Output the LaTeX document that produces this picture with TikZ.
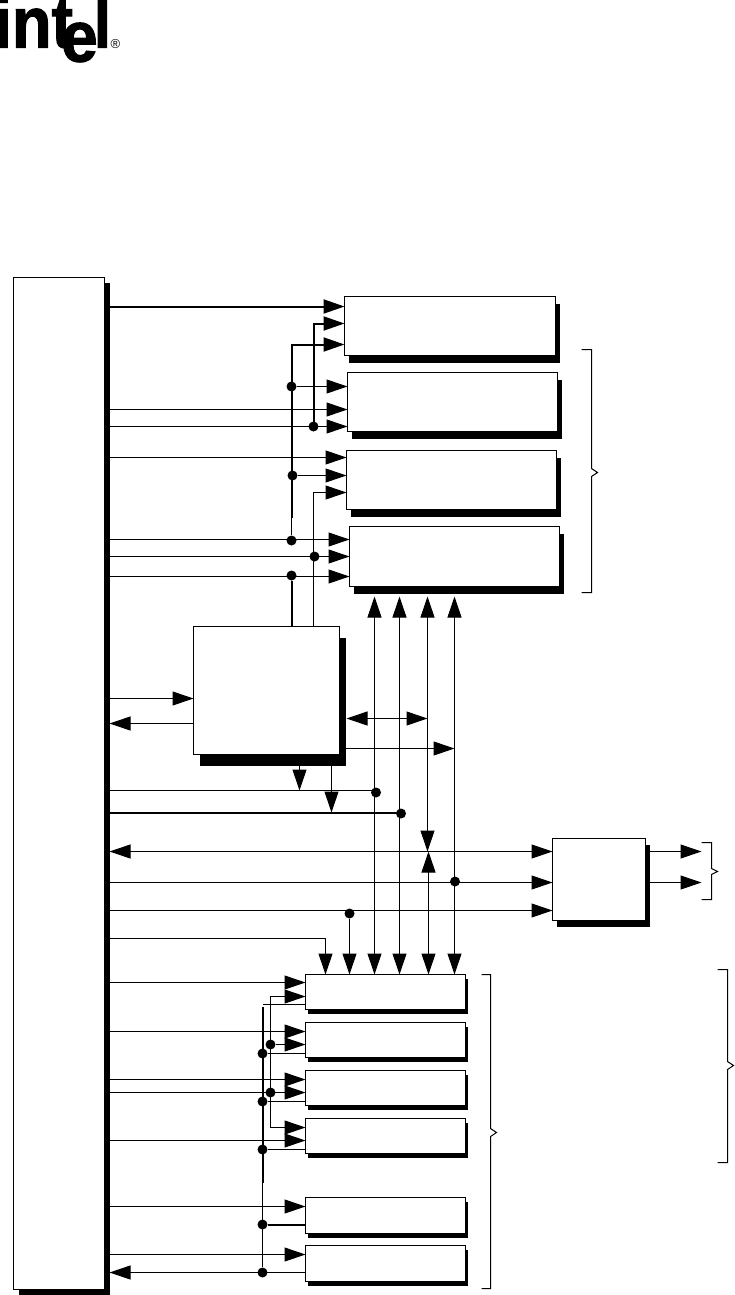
\documentclass[tikz,border=0pt]{standalone}
\usepackage{fontspec}
\setmainfont{Liberation Sans}
\newfontfamily\logofont[FakeBold=1.6]{Liberation Sans Bold}
\usetikzlibrary{arrows.meta,shadows}
\begin{document}
\begin{tikzpicture}[
  x=1pt, y=-1pt, line width=1pt,
  blk/.style={draw, fill=white, inner sep=0pt, outer sep=0pt},
  regblk/.style={blk, minimum width=210pt, minimum height=59pt, general shadow={fill=black, shadow xshift=4.5pt, shadow yshift=-7.5pt}},
  lowblk/.style={blk, minimum width=160pt, minimum height=35pt, general shadow={fill=black, shadow xshift=2.5pt, shadow yshift=-4.5pt}},
  dot/.style={circle, fill=black, inner sep=0pt, minimum size=10pt},
  arr/.style={-{Triangle[length=21pt,width=14pt]}},
  biarr/.style={{Triangle[length=21pt,width=14pt]}-{Triangle[length=21pt,width=14pt]}},
  hvy/.style={line width=2pt},
  logo/.style={anchor=base west, inner sep=0pt, font=\fontsize{72}{72}\logofont},
  brc/.style={line width=1pt}
]
  \useasboundingbox (-0.5,-0.5) rectangle (733.5,1294.5);

  % logo
  \begin{scope}
    \clip (-0.5,-0.5) rectangle (200,100);
    \node[logo, xscale=0.9] (logint) at (-7,47) {int};
    \node[logo, xscale=0.92] (loge) at (60,61) {e};
    \node[logo, xscale=0.85] (logl) at (93,47) {l};
  \end{scope}
  \node[font=\fontsize{13}{13}\selectfont, inner sep=0pt] (logr) at (115,44) {\textregistered};

  % blocks
  \node[blk, minimum width=91pt, minimum height=1012pt, general shadow={fill=black, shadow xshift=5pt, shadow yshift=-5.5pt}] (bus) at (58.5,783) {};
  \coordinate (busr) at (109,0);

  \node[regblk, minimum width=211pt] (r1) at (449.5,325.5) {};
  \node[regblk] (r2) at (452,401.5) {};
  \node[regblk] (r3) at (451,479.5) {};
  \node[regblk, minimum height=60pt] (r4) at (454,556) {};
  \coordinate (rbot) at (0,596);

  \node[blk, minimum width=146pt, minimum height=128pt, general shadow={fill=black, shadow xshift=6.5pt, shadow yshift=-11.5pt}] (ctl) at (266,690) {};
  \node[blk, minimum width=93pt, minimum height=82pt, general shadow={fill=black, shadow xshift=4.5pt, shadow yshift=-6.5pt}] (drv) at (598.5,879) {};

  \node[lowblk] (m1) at (385,991.5) {};
  \node[lowblk] (m2) at (385,1039.5) {};
  \node[lowblk] (m3) at (385,1087.5) {};
  \node[lowblk] (m4) at (385,1135.5) {};
  \node[lowblk, minimum height=36pt] (m5) at (385,1215) {};
  \node[lowblk, minimum height=36pt] (m6) at (385,1263) {};

  % junctions
  \node[dot] (ja) at (291,386) {};
  \node[dot] (jb) at (313,426) {};
  \node[dot] (jc) at (292,475) {};
  \node[dot] (jd) at (291,540) {};
  \node[dot] (je) at (314,556) {};
  \node[dot] (jf) at (291,575) {};
  \node[dot] (jg) at (375.5,792) {};
  \node[dot] (jh) at (400.5,813) {};
  \node[dot] (ji) at (454.5,881) {};
  \node[dot] (jj) at (349,913) {};
  \node[dot] (jk) at (270,1044) {};
  \node[dot] (jl) at (262,1053) {};
  \node[dot] (jm) at (270,1092) {};
  \node[dot] (jn) at (262,1101) {};
  \node[dot] (jo) at (262,1149) {};
  \node[dot] (jp) at (262,1224) {};
  \node[dot] (jq) at (262,1272) {};

  % upper registers
  \draw[arr, hvy] (busr |- 0,306) -- (r1.west |- 0,306);
  \draw[arr, hvy] (jb.center) -- (313,323) -- (r1.west |- 0,323);
  \draw[arr, hvy] (291,517) -- (291,344) -- (r1.west |- 0,344);
  \draw (291,517) -- (jd);
  \draw[arr] (ja) -- (r2.west |- ja);
  \draw[arr] (busr |- 0,409) -- (r2.west |- 0,409);
  \draw[arr] (busr |- jb) -- (r2.west |- jb);
  \draw[arr] (busr |- 0,457) -- (r3.west |- 0,457);
  \draw[arr] (jc) -- (r3.west |- jc);
  \draw[arr] (ctl.north -| 313,0) -- (313,492) -- (r3.west |- 0,492);
  \draw[arr] (busr |- 0,539) -- (r4.west |- 0,539);
  \draw[arr] (busr |- 0,556) -- (r4.west |- 0,556);
  \draw[arr] (busr |- 0,576) -- (r4.west |- 0,576);
  \draw[hvy] (jf) -- (ctl.north -| jf);

  % control block
  \draw[arr] (busr |- 0,698) -- (ctl.west |- 0,698);
  \draw[arr] (ctl.west |- 0,723) -- (busr |- 0,723);
  \draw[biarr] (346,718) -- (427,718);
  \draw[arr] (ctl.east |- 0,748) -- (454,748);
  \draw[arr] (ctl.south -| 299,0) -- (299,790);
  \draw[arr] (ctl.south -| 331,0) -- (331,812);
  \draw (busr |- 0,790) -- (jg |- 0,790);
  \draw[hvy] (busr |- 0,812) -- (jh |- 0,812);

  % vertical data lines
  \draw[biarr] (rbot -| 374,0) -- (m1.north -| 374,0);
  \draw[biarr] (rbot -| 399,0) -- (m1.north -| 399,0);
  \draw[biarr] (rbot -| 427,0) -- (427,851);
  \draw[biarr] (428,851) -- (m1.north -| 428,0);
  \draw[biarr] (rbot -| 454,0) -- (m1.north -| 454,0);

  % driver block
  \draw[biarr] (busr |- 0,851) -- (drv.west |- 0,851);
  \draw[arr] (busr |- 0,882) -- (drv.west |- 0,882);
  \draw[arr] (busr |- 0,910) -- (drv.west |- 0,910);
  \draw[arr] (jj) -- (m1.north -| jj);
  \draw[arr] (busr |- 0,938) -- (325,938) -- (m1.north -| 325,0);
  \draw[arr] (drv.east |- 0,851) -- (701,851);
  \draw[arr] (drv.east |- 0,882) -- (701,882);

  % lower blocks
  \draw[arr] (busr |- 0,982) -- (m1.west |- 0,982);
  \draw[arr] (270,1127) -- (270,996) -- (m1.west |- 0,996);
  \draw (m1.west |- 0,1004) -- (262,1004);
  \draw[hvy] (262,1006) -- (262,1182);
  \draw (262,1182) -- (jq);
  \draw[arr] (busr |- 0,1031) -- (m2.west |- 0,1031);
  \draw[arr] (jk) -- (m2.west |- jk);
  \draw (jl) -- (m2.west |- jl);
  \draw[arr] (busr |- 0,1079) -- (m3.west |- 0,1079);
  \draw[arr] (busr |- jm) -- (m3.west |- jm);
  \draw (jn) -- (m3.west |- jn);
  \draw[arr] (270,1127) -- (m4.west |- 0,1127);
  \draw[arr] (busr |- 0,1140) -- (m4.west |- 0,1140);
  \draw (jo) -- (m4.west |- jo);
  \draw[arr] (busr |- 0,1206) -- (m5.west |- 0,1206);
  \draw[hvy] (jp) -- (m5.west |- jp);
  \draw[arr] (busr |- 0,1254) -- (m6.west |- 0,1254);
  \draw[arr] (m6.west |- jq) -- (busr |- jq);

  % braces
  \draw[brc] (581,349) -- (591,349) -- (591,468) -- (597,472) -- (591,476) -- (591,592) -- (581,592);
  \draw[brc] (701,842) -- (711,842) -- (711,868) -- (717,871) -- (711,874) -- (711,899) -- (701,899);
  \draw[brc] (481,974) -- (490,974) -- (490,1128) -- (496,1132) -- (490,1136) -- (490,1288) -- (481,1288);
  \draw[brc] (717,969) -- (727,969) -- (727,1061) -- (733,1065) -- (727,1069) -- (727,1162) -- (717,1162);
\end{tikzpicture}
\end{document}
